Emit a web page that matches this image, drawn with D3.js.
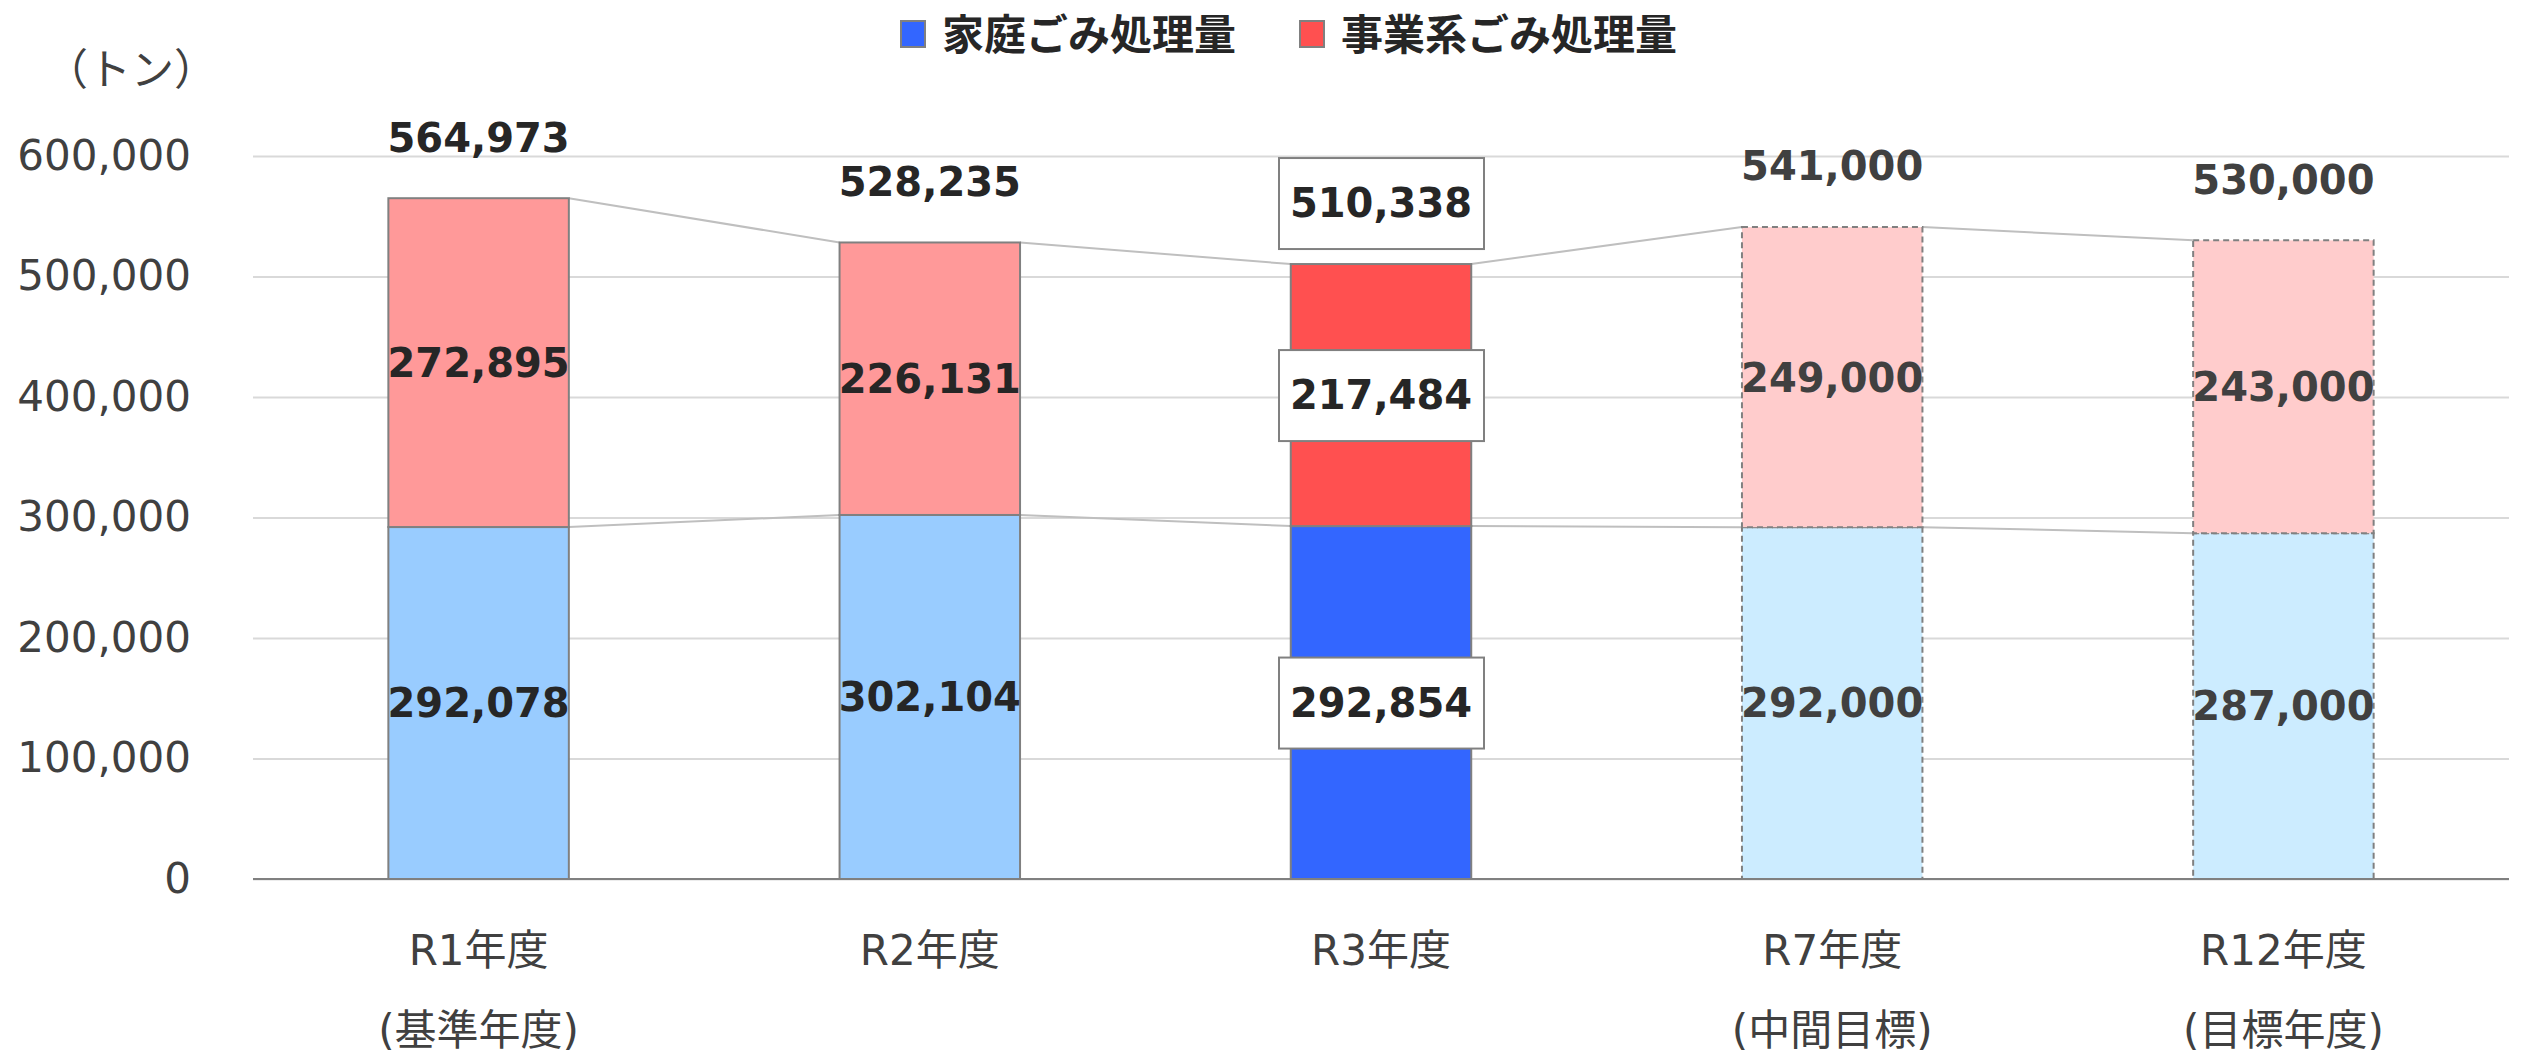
<!DOCTYPE html>
<html>
<head>
<meta charset="utf-8">
<script src="https://cdn.jsdelivr.net/npm/d3@7"></script>
<style>
  body { margin: 0; background: #fff; }
  text { font-family: "DejaVu Sans", "Noto Sans CJK JP", sans-serif; }
</style>
</head>
<body>
<div id="chart"></div>
<script>
  // 年度ごとのごみ処理量（トン）
  var categories = ["R1年度", "R2年度", "R3年度", "R7年度", "R12年度"];
  var subLabels = ["(基準年度)", "", "", "(中間目標)", "(目標年度)"];
  var household = [292078, 302104, 292854, 292000, 287000];
  var business = [272895, 226131, 217484, 249000, 243000];
  var totals = [564973, 528235, 510338, 541000, 530000];
  var kinds = ["past", "past", "latest", "target", "target"];
  var seriesNames = ["家庭ごみ処理量", "事業系ごみ処理量"];
  var yTicks = [0, 100000, 200000, 300000, 400000, 500000, 600000];

  var width = 2524;
  var height = 1056;
  // "top" is a window global, so use other names
  var plotLeft = 253, plotRight = 2509, plotTop = 156, plotBottom = 879;

  var fills = {
    past:   ["#99CCFF", "#FF9999"],
    latest: ["#3366FF", "#FF5050"],
    target: ["#CCECFF", "#FFCCCC"]
  };
  var textColor = { past: "#262626", latest: "#262626", target: "#404040" };

  var svg = d3.select("#chart")
              .append("svg")
              .attr("width", width)
              .attr("height", height);

  var x = d3.scaleBand()
            .domain(categories)
            .range([plotLeft, plotRight])
            .paddingInner(0.6)
            .paddingOuter(0.3);
  var y = d3.scaleLinear()
            .domain([0, 600000])
            .range([plotBottom, plotTop]);
  var bw = x.bandwidth();
  var fmt = d3.format(",");

  // 目盛り線と目盛りラベル
  var yAxis = svg.append("g")
                 .attr("transform", "translate(" + plotLeft + ",0)")
                 .call(d3.axisLeft(y)
                         .tickValues(yTicks)
                         .tickFormat(fmt)
                         .tickSize(-(plotRight - plotLeft))
                         .tickPadding(62));
  yAxis.select(".domain").remove();
  yAxis.selectAll(".tick line")
       .style("stroke", "#D9D9D9")
       .style("stroke-width", 2);
  yAxis.selectAll(".tick text")
       .style("font-size", "42px")
       .style("fill", "#404040")
       .style("font-family", "\"DejaVu Sans\", \"Noto Sans CJK JP\", sans-serif");

  svg.append("text")
     .attr("x", 131)
     .attr("y", 70)
     .attr("dy", "0.35em")
     .attr("text-anchor", "middle")
     .style("font-size", "43px")
     .style("fill", "#404040")
     .style("font-family", "\"Noto Sans CJK JP\"")
     .text("（トン）");

  // 系列線
  var lineData = [household, totals];
  lineData.forEach(function(vals) {
    for (var i = 0; i < vals.length - 1; i++) {
      svg.append("line")
         .attr("x1", x(categories[i]) + bw)
         .attr("y1", y(vals[i]))
         .attr("x2", x(categories[i + 1]))
         .attr("y2", y(vals[i + 1]))
         .style("stroke", "#BFBFBF")
         .style("stroke-width", 2);
    }
  });

  // 積み上げ棒
  var rows = categories.map(function(c, i) {
    return { cat: c, kind: kinds[i], h: household[i], b: business[i], t: totals[i], sub: subLabels[i] };
  });

  var bars = svg.selectAll("g.bar")
                .data(rows)
                .enter()
                .append("g")
                .attr("class", "bar");

  bars.append("rect")
      .attr("x", function(d) { return x(d.cat); })
      .attr("y", function(d) { return y(d.h); })
      .attr("width", bw)
      .attr("height", function(d) { return y(0) - y(d.h); })
      .style("fill", function(d) { return fills[d.kind][0]; });
  bars.append("rect")
      .attr("x", function(d) { return x(d.cat); })
      .attr("y", function(d) { return y(d.t); })
      .attr("width", bw)
      .attr("height", function(d) { return y(d.h) - y(d.t); })
      .style("fill", function(d) { return fills[d.kind][1]; });
  bars.selectAll("rect")
      .style("stroke", "#808080")
      .style("stroke-width", 2)
      .style("stroke-dasharray", function() {
        return d3.select(this.parentNode).datum().kind == "target" ? "6,4" : null;
      });

  // 軸線
  svg.append("line")
     .attr("x1", plotLeft)
     .attr("x2", plotRight)
     .attr("y1", y(0))
     .attr("y2", y(0))
     .style("stroke", "#808080")
     .style("stroke-width", 2);

  // データラベル
  function addLabel(d, value, cy) {
    var cx = x(d.cat) + bw / 2;
    if (d.kind == "latest") {
      svg.append("rect")
         .attr("x", cx - 102)
         .attr("y", cy - 45)
         .attr("width", 205)
         .attr("height", 91)
         .style("fill", "#fff")
         .style("stroke", "#808080")
         .style("stroke-width", 2);
    }
    svg.append("text")
       .attr("x", cx)
       .attr("y", cy)
       .attr("dy", "0.36em")
       .attr("text-anchor", "middle")
       .style("font-size", "40px")
       .style("font-weight", "bold")
       .style("fill", textColor[d.kind])
       .text(fmt(value));
  }
  rows.forEach(function(d) {
    addLabel(d, d.h, y(d.h / 2));
    addLabel(d, d.b, y(d.h + d.b / 2));
    addLabel(d, d.t, y(d.t) - 61);
  });

  // 横軸ラベル
  bars.append("text")
      .attr("x", function(d) { return x(d.cat) + bw / 2; })
      .attr("y", 950)
      .attr("dy", "0.35em")
      .attr("text-anchor", "middle")
      .style("font-size", "42px")
      .style("fill", "#404040")
      .text(function(d) { return d.cat; });
  bars.append("text")
      .attr("x", function(d) { return x(d.cat) + bw / 2; })
      .attr("y", 1030)
      .attr("dy", "0.35em")
      .attr("text-anchor", "middle")
      .style("font-size", "42px")
      .style("fill", "#404040")
      .text(function(d) { return d.sub; });

  // 凡例
  var legend = svg.selectAll("g.legend")
                  .data(seriesNames)
                  .enter()
                  .append("g")
                  .attr("class", "legend")
                  .attr("transform", function(d, i) { return "translate(" + (i == 0 ? 901 : 1300) + ",21)"; });
  legend.append("rect")
        .attr("width", 24)
        .attr("height", 26)
        .style("fill", function(d, i) { return fills.latest[i]; })
        .style("stroke", "#808080")
        .style("stroke-width", 2);
  legend.append("text")
        .attr("x", 41)
        .attr("y", 14)
        .attr("dy", "0.36em")
        .style("font-size", "42px")
        .style("font-weight", "bold")
        .style("fill", "#262626")
        .style("font-family", "\"Noto Sans CJK JP\"")
        .text(function(d) { return d; });
</script>
</body>
</html>
